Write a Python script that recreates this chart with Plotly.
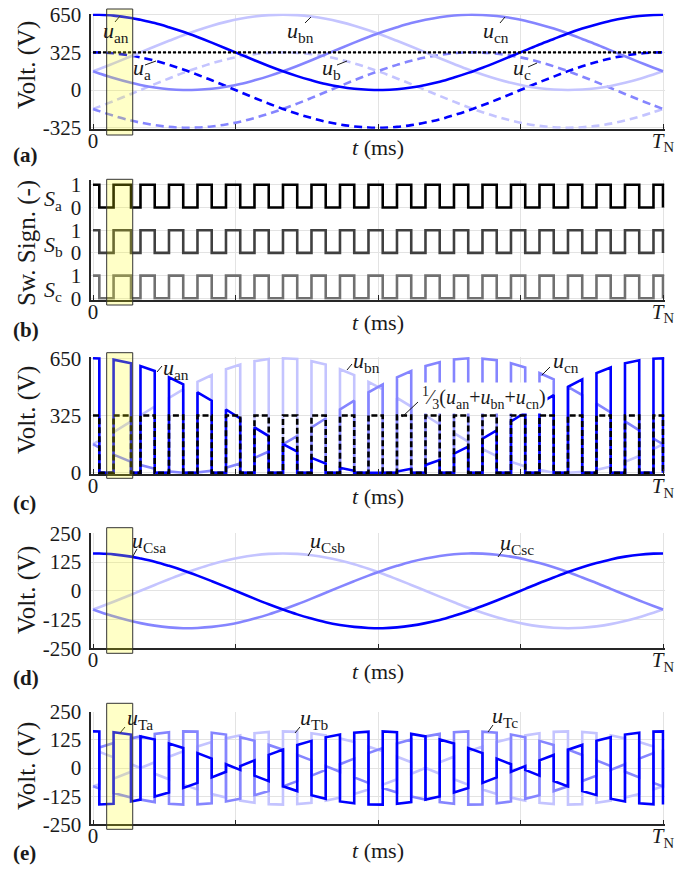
import plotly.graph_objects as go

# ---------------- data (time in units of T_N, voltages in V) ----------------
t_edges = [0.0000, 0.0111, 0.0361, 0.0667, 0.0833, 0.1083, 0.1333, 0.1583, 0.1833,
           0.2083, 0.2333, 0.2583, 0.2833, 0.3083, 0.3333, 0.3583, 0.3833, 0.4083,
           0.4333, 0.4583, 0.4833, 0.5083, 0.5333, 0.5583, 0.5833, 0.6083, 0.6333,
           0.6583, 0.6833, 0.7083, 0.7333, 0.7583, 0.7833, 0.8083, 0.8333, 0.8583,
           0.8833, 0.9083, 0.9333, 0.9583, 0.9833, 1.0000]

u_an_v = [650, 649, 642, 622, 606, 578, 542, 502, 457, 409, 359, 308, 257, 208,
          162, 120, 84, 52, 28, 11, 2, 0, 7, 22, 44, 72, 108, 148, 193, 241, 291,
          342, 393, 441, 488, 530, 566, 598, 622, 639, 648, 650]
u_bn_v = [162, 182, 230, 291, 325, 376, 425, 473, 516, 555, 588, 615, 634, 646,
          650, 646, 634, 615, 588, 555, 516, 473, 425, 376, 325, 274, 225, 177,
          134, 95, 62, 35, 16, 4, 0, 4, 16, 35, 62, 95, 134, 162]
u_cn_v = [162, 143, 103, 62, 44, 22, 7, 0, 2, 11, 28, 52, 84, 120, 162, 208, 257,
          308, 359, 409, 457, 502, 542, 578, 606, 628, 643, 650, 648, 639, 622,
          598, 566, 530, 488, 441, 393, 342, 291, 241, 193, 162]

s_initial = 1          # switching state right after t = 0 (each edge toggles)
u_mid = 325            # dc mid-point voltage

x_tickvals = [0, 0.25, 0.5, 0.75, 1]
x_ticktext = ["0", "", "", "", "<i>T</i><sub>N</sub>"]

# ---------------- styling ----------------
W, H = 692, 869
FONT = "Liberation Serif"
TXT = "#1a1a1a"
C_A, C_B, C_C = "#0000ff", "#c4c4ff", "#8585ff"
S_COL = ["#000000", "#404040", "#707070"]
LW = 2.6
GRID = "#e3e3e3"
AXC = "#262626"


def switched(vals, fn):
    xs, ys = [], []
    s = s_initial
    for i in range(len(t_edges) - 1):
        for j in (i, i + 1):
            xs.append(t_edges[j])
            ys.append(fn(s, vals[j]))
        s = 1 - s
    xs.append(t_edges[-1])
    ys.append(fn(s, vals[-1]))
    return xs, ys


phase_vals = {"a": u_an_v, "b": u_bn_v, "c": u_cn_v}
phase_col = {"a": C_A, "b": C_B, "c": C_C}
draw_order = ["b", "c", "a"]

fig = go.Figure()


def add(x, y, ax, color, width=LW, dash=None, shape="linear"):
    fig.add_trace(go.Scatter(x=x, y=y, mode="lines", xaxis="x" + ax, yaxis="y" + ax,
                             line=dict(color=color, width=width, dash=dash, shape=shape),
                             hoverinfo="skip", showlegend=False))


# panel (a)
for p in draw_order:
    add(t_edges, [v - u_mid for v in phase_vals[p]], "", phase_col[p], dash="8px,5px", shape="spline")
for p in draw_order:
    add(t_edges, phase_vals[p], "", phase_col[p], shape="spline")
avg = [(a + b + c) / 3 for a, b, c in zip(u_an_v, u_bn_v, u_cn_v)]
add(t_edges, avg, "", "#000000", width=2.4, dash="3px,2px")

# panel (b)
for k, p in enumerate(["a", "b", "c"]):
    off = 2 * (2 - k)
    xs, ys = switched(phase_vals[p], lambda s, v, o=off: s + o)
    add(xs, ys, "2", S_COL[k])

# panel (c)
sw = {}
for p in draw_order:
    xs, ys = switched(phase_vals[p], lambda s, v: s * v)
    sw[p] = ys
    add(xs, ys, "3", phase_col[p])
cm = [(a + b + c) / 3 for a, b, c in zip(sw["a"], sw["b"], sw["c"])]
add(xs, cm, "3", "#000000", width=2.6, dash="6px,3px")

# panel (d)
for p in draw_order:
    add(t_edges, [(v - u_mid) / 2 for v in phase_vals[p]], "4", phase_col[p], shape="spline")

# panel (e)
for p in draw_order:
    xs, ys = switched(phase_vals[p], lambda s, v: (2 * s - 1) * (v - u_mid) / 2)
    add(xs, ys, "5", phase_col[p])

# ---------------- axes ----------------
xdom = [91.29 / W, 664.71 / W]


def ydom(top, bot):
    return [1 - bot / H, 1 - top / H]


panels = [
    ("", [-335, 660], (13.54, 128.86), [-325, 0, 325, 650], ["-325", "0", "325", "650"]),
    ("2", [-0.06, 5.2], (180.26, 299.66), [0, 1, 2, 3, 4, 5], ["0", "1", "0", "1", "0", "1"]),
    ("3", [-8, 660], (356.54, 474.1), [0, 325, 650], ["0", "325", "650"]),
    ("4", [-250, 250], (533.3, 648.3), [-250, -125, 0, 125, 250], ["-250", "-125", "0", "125", "250"]),
    ("5", [-250, 250], (711.7, 824.3), [-250, -125, 0, 125, 250], ["-250", "-125", "0", "125", "250"]),
]
lay = {}
for ax, yr, (top, bot), tv, tt in panels:
    lay["xaxis" + ax] = dict(domain=xdom, range=[-0.003, 1.003], anchor="y" + ax,
                             tickvals=x_tickvals, ticktext=x_ticktext, ticks="inside", ticklen=5,
                             tickwidth=1.3, tickcolor=AXC, showgrid=True, gridcolor=GRID, gridwidth=1,
                             showline=True, linecolor=AXC, linewidth=1.6, zeroline=False,
                             automargin=False, ticklabelstandoff=-8,
                             tickfont=dict(family=FONT, size=21, color=TXT), fixedrange=True)
    lay["yaxis" + ax] = dict(domain=ydom(top, bot), range=yr, anchor="x" + ax,
                             tickvals=tv, ticktext=tt, ticks="", showgrid=True, gridcolor=GRID,
                             gridwidth=1, showline=True, linecolor=AXC, linewidth=1.6,
                             zeroline=False, ticklabelstandoff=4, automargin=False,
                             tickfont=dict(family=FONT, size=21, color=TXT), fixedrange=True)

# ---------------- annotations ----------------
ann = []


def A(text, x, y, size=22, xa="left", ya="middle", angle=0, bg=None):
    d = dict(text=text, x=x / W, y=1 - y / H, xref="paper", yref="paper", showarrow=False,
             xanchor=xa, yanchor=ya, textangle=angle,
             font=dict(family=FONT, size=size, color=TXT))
    if bg:
        d["bgcolor"] = bg
    ann.append(d)


def u(sub):
    return "<i>u</i><sub>" + sub + "</sub>"


# panel letters and axis titles
for lab, yy in zip(["(a)", "(b)", "(c)", "(d)", "(e)"], [155, 330, 503, 678, 853]):
    A("<b>" + lab + "</b>", 11, yy, size=21)
for yy in [148, 323, 496, 671, 850]:
    A("<i>t</i> (ms)", 378, yy, size=22, xa="center")
for yy in [65, 410, 590, 766]:
    A("Volt. (V)", 27, yy, size=25, xa="center", angle=-90)
A("Sw. Sign. (-)", 27, 243, size=25, xa="center", angle=-90)
for sname, yy in zip(["a", "b", "c"], [200, 246, 291]):
    A("<i>S</i><sub>" + sname + "</sub>", 42, yy, size=22)

# curve labels
A(u("an"), 101, 32); A(u("a"), 131, 69); A(u("bn"), 285, 32); A(u("b"), 320, 69)
A(u("cn"), 481, 32); A(u("c"), 511, 69)
A(u("an"), 161, 369); A(u("bn"), 351, 362); A(u("cn"), 551, 362)
A("<sup>1</sup>⁄<sub>3</sub>(" + u("an") + "+" + u("bn") + "+" + u("cn") + ")", 420, 398,
  size=20, bg="white")
A(u("Csa"), 130, 542); A(u("Csb"), 308, 542); A(u("Csc"), 498, 544)
A(u("Ta"), 125, 719); A(u("Tb"), 298, 719); A(u("Tc"), 490, 717)

# ---------------- shapes: leader lines + highlight boxes ----------------
shapes = []
leaders = [((115, 22), (120, 16)), ((145, 65), (156, 61)), ((305, 23), (311, 17)),
           ((337, 65), (347, 61)), ((500, 23), (505, 17)), ((528, 67), (537, 63)),
           ((157, 372), (162, 366)), ((347, 370), (352, 364)), ((542, 375), (550, 367)),
           ((402, 417), (418, 402)),
           ((133, 556), (137, 549)), ((308, 556), (312, 549)), ((498, 557), (503, 550)),
           ((120, 733), (125, 727)), ((295, 733), (300, 727)), ((488, 732), (493, 725))]
for (x0, y0), (x1, y1) in leaders:
    shapes.append(dict(type="line", xref="paper", yref="paper", x0=x0 / W, y0=1 - y0 / H,
                       x1=x1 / W, y1=1 - y1 / H, line=dict(color=TXT, width=1), layer="above"))
box_t = [0.024, 0.0697]
for top, bot in [(9, 135), (179.3, 305), (352.7, 478.3), (527.7, 653.3), (703.3, 829.3)]:
    shapes.append(dict(type="rect", xref="x", yref="paper", x0=box_t[0], x1=box_t[1],
                       y0=1 - bot / H, y1=1 - top / H, fillcolor="rgba(255,255,0,0.22)",
                       line=dict(color="#333333", width=1), layer="above"))

fig.update_layout(width=W, height=H, margin=dict(l=0, r=0, t=0, b=0, autoexpand=False),
                  paper_bgcolor="white", plot_bgcolor="white", showlegend=False,
                  annotations=ann, shapes=shapes, **lay)
fig.write_html("out.html", config={"displayModeBar": False},
               post_script="document.body.style.margin='0';document.body.style.padding='0';")
